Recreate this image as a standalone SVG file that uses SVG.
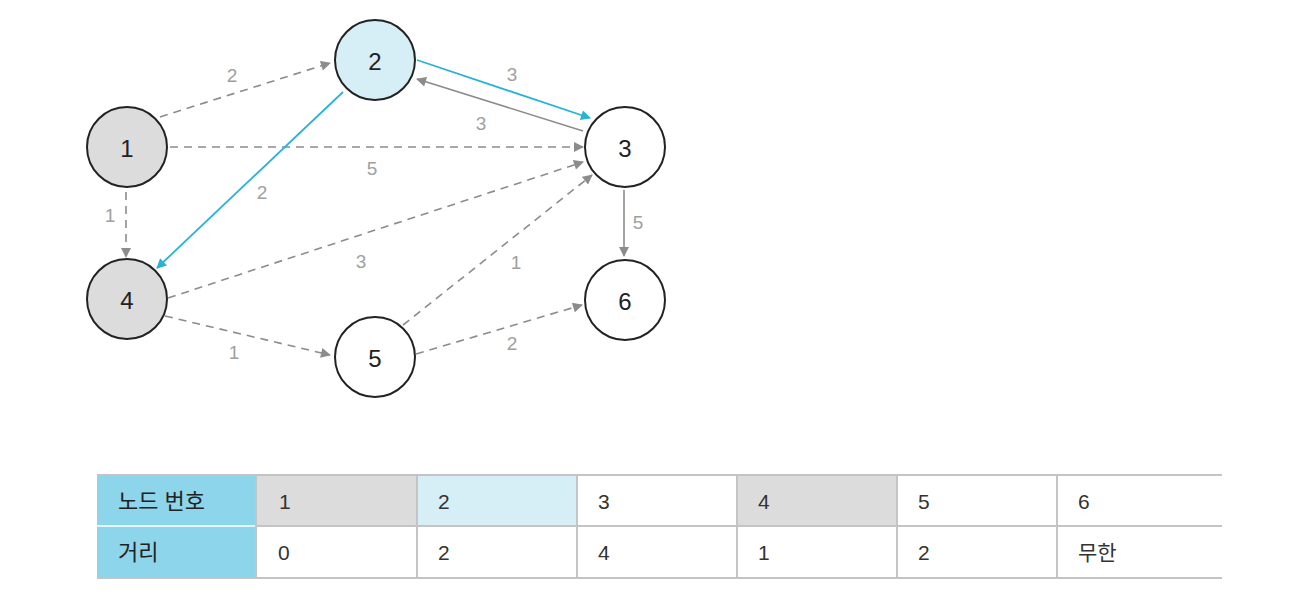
<svg xmlns="http://www.w3.org/2000/svg" width="1306" height="604" viewBox="0 0 1306 604">
<style>
text{font-family:"Liberation Sans","Noto Sans CJK KR",Arial,sans-serif}
.node circle{stroke:#222;stroke-width:2}
.node text{font-size:24px;fill:#222;text-anchor:middle;dominant-baseline:central}
.e{fill:none;stroke:#8c8c8c;stroke-width:1.6}
.d{stroke-dasharray:8 6}
.b{stroke:#27b3d6;stroke-width:1.8}
.lbl{font-size:19px;fill:#a0a0a0;text-anchor:middle}
.cell{font-size:21px;fill:#333}
.kr{font-size:22px;fill:#222}
.grid{stroke:#c4c4c4;stroke-width:2}
</style>
<defs>
<marker id="ag" viewBox="0 0 10 10" refX="9" refY="5" markerWidth="11" markerHeight="10" markerUnits="userSpaceOnUse" orient="auto"><path d="M0,0L10,5L0,10z" fill="#8c8c8c"/></marker>
<marker id="ab" viewBox="0 0 10 10" refX="9" refY="5" markerWidth="11" markerHeight="10" markerUnits="userSpaceOnUse" orient="auto"><path d="M0,0L10,5L0,10z" fill="#27b3d6"/></marker>
</defs>
<rect width="1306" height="604" fill="#fff"/>
<g id="edges">
<path class="e d" d="M160,117L330,63" style="marker-end:url(#ag)"/>
<path class="e d" d="M170,147L583,147" style="marker-end:url(#ag)"/>
<path class="e d" d="M126,192L126,257" style="marker-end:url(#ag)"/>
<path class="e b" d="M343,92L157,268" style="marker-end:url(#ab)"/>
<path class="e b" d="M417,60L590,118" style="marker-end:url(#ab)"/>
<path class="e" d="M583,131L417,79" style="marker-end:url(#ag)"/>
<path class="e d" d="M168,298L583,162" style="marker-end:url(#ag)"/>
<path class="e d" d="M403,325L592,175" style="marker-end:url(#ag)"/>
<path class="e" d="M624,190L624,256" style="marker-end:url(#ag)"/>
<path class="e d" d="M165,316L330,355" style="marker-end:url(#ag)"/>
<path class="e d" d="M416,354L582,305" style="marker-end:url(#ag)"/>
<text class="lbl" x="232" y="82">2</text>
<text class="lbl" x="512" y="81">3</text>
<text class="lbl" x="481" y="130">3</text>
<text class="lbl" x="372" y="175">5</text>
<text class="lbl" x="262" y="199">2</text>
<text class="lbl" x="110" y="222">1</text>
<text class="lbl" x="638" y="229">5</text>
<text class="lbl" x="361" y="268">3</text>
<text class="lbl" x="516" y="269">1</text>
<text class="lbl" x="234" y="359">1</text>
<text class="lbl" x="512" y="350">2</text>
</g>
<g id="node1" class="node"><circle cx="127" cy="147" r="40" fill="#dcdcdc"/><text x="127" y="148">1</text></g>
<g id="node2" class="node"><circle cx="375" cy="60" r="40" fill="#d6eef6"/><text x="375" y="61">2</text></g>
<g id="node3" class="node"><circle cx="625" cy="147" r="40" fill="#fff"/><text x="625" y="148">3</text></g>
<g id="node4" class="node"><circle cx="127" cy="299" r="40" fill="#dcdcdc"/><text x="127" y="300">4</text></g>
<g id="node5" class="node"><circle cx="375" cy="357" r="40" fill="#fff"/><text x="375" y="358">5</text></g>
<g id="node6" class="node"><circle cx="625" cy="300" r="40" fill="#fff"/><text x="625" y="301">6</text></g>
<g id="table">
<rect x="97" y="475" width="159" height="102" fill="#8dd5ea"/>
<rect x="256" y="475" width="161" height="51" fill="#dcdcdc"/>
<rect x="417" y="475" width="160" height="51" fill="#d6eef6"/>
<rect x="737" y="475" width="160" height="51" fill="#dcdcdc"/>
<line class="grid" x1="97" y1="475" x2="1222" y2="475"/>
<line class="grid" x1="97" y1="526" x2="1222" y2="526"/>
<line class="grid" x1="97" y1="578" x2="1222" y2="578"/>
<line x1="97" y1="526" x2="256" y2="526" stroke="#e8f6fb" stroke-width="2"/>
<line class="grid" x1="256" y1="475" x2="256" y2="578"/>
<line class="grid" x1="417" y1="475" x2="417" y2="578"/>
<line class="grid" x1="577" y1="475" x2="577" y2="578"/>
<line class="grid" x1="737" y1="475" x2="737" y2="578"/>
<line class="grid" x1="897" y1="475" x2="897" y2="578"/>
<line class="grid" x1="1057" y1="475" x2="1057" y2="578"/>
<text class="kr" x="118" y="509">노드 번호</text>
<text class="kr" x="118" y="560">거리</text>
<text class="cell" x="279" y="509">1</text>
<text class="cell" x="438" y="509">2</text>
<text class="cell" x="598" y="509">3</text>
<text class="cell" x="758" y="509">4</text>
<text class="cell" x="918" y="509">5</text>
<text class="cell" x="1078" y="509">6</text>
<text class="cell" x="278" y="560">0</text>
<text class="cell" x="438" y="560">2</text>
<text class="cell" x="598" y="560">4</text>
<text class="cell" x="758" y="560">1</text>
<text class="cell" x="918" y="560">2</text>
<text class="cell" x="1078" y="560">무한</text>
</g>
</svg>
